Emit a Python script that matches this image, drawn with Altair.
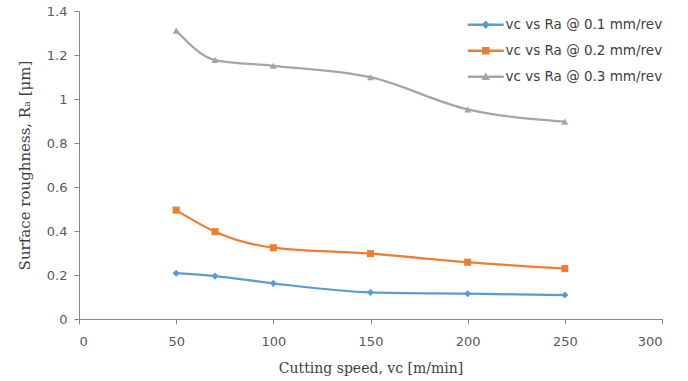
import altair as alt
import pandas as pd

speeds = [50, 70, 100, 150, 200, 250]
ra_01 = [0.208, 0.195, 0.162, 0.121, 0.115, 0.109]
ra_02 = [0.495, 0.397, 0.324, 0.297, 0.258, 0.229]
ra_03 = [1.311, 1.177, 1.151, 1.099, 0.953, 0.897]
series_names = ["vc vs Ra @ 0.1 mm/rev", "vc vs Ra @ 0.2 mm/rev", "vc vs Ra @ 0.3 mm/rev"]
colors = ["#5B9BD5", "#ED7D31", "#A5A5A5"]
marker_shapes = ["diamond", "square", "triangle-up"]

# legend symbols: a short line segment with the series marker on it
seg = "M-3.6,-0.23H3.6V0.23H-3.6Z"
legend_paths = [
    seg + "M0,-0.85L0.85,0L0,0.85L-0.85,0Z",
    seg + "M-0.75,-0.75H0.75V0.75H-0.75Z",
    seg + "M0,-0.85L0.85,0.65H-0.85Z",
]

rows = []
for name, vals in zip(series_names, [ra_01, ra_02, ra_03]):
    for s, v in zip(speeds, vals):
        rows.append({"speed": s, "ra": v, "series": name})
df = pd.DataFrame(rows)

x_enc = alt.X("speed:Q", scale=alt.Scale(domain=[0, 300], nice=False),
              axis=alt.Axis(values=[0, 50, 100, 150, 200, 250, 300], grid=False,
                            title="Cutting speed, vᴄ [m/min]", titleFont="DejaVu Serif",
                            titleFontSize=14, titleFontWeight="normal", titleColor="#404040",
                            titlePadding=13, labelPadding=11))
y_enc = alt.Y("ra:Q", scale=alt.Scale(domain=[0, 1.4], nice=False),
              axis=alt.Axis(values=[0, 0.2, 0.4, 0.6, 0.8, 1, 1.2, 1.4], grid=False,
                            title="Surface roughness, Rₐ [μm]", titleFont="DejaVu Serif",
                            titleFontSize=15, titleFontWeight="normal", titleColor="#404040",
                            titlePadding=14, labelPadding=7,
                            labelExpr="format(datum.value, '')"))

base = alt.Chart(df)

layers = []
for name, col, shp in zip(series_names, colors, marker_shapes):
    sub = base.transform_filter(alt.datum.series == name)
    layers.append(
        sub.mark_line(interpolate="monotone", strokeWidth=2.25, color=col)
        .encode(x=x_enc, y=y_enc)
    )
for name, col, shp in zip(series_names, colors, marker_shapes):
    sub = base.transform_filter(alt.datum.series == name)
    layers.append(
        sub.mark_point(filled=True, size=50, opacity=1, shape=shp, color=col)
        .encode(x="speed:Q", y="ra:Q")
    )

leg = alt.Legend(title=None, orient="none", legendX=400, legendY=7,
                 symbolSize=100, labelOffset=13, rowPadding=11, padding=0,
                 labelFont="DejaVu Sans", labelFontSize=13.5,
                 labelColor="#404040")

# marks of this layer are parked off-canvas; it only supplies the legend
legend_layer = base.mark_point(filled=True, opacity=1).encode(
    x=alt.value(-500), y=alt.value(-500),
    color=alt.Color("series:N", scale=alt.Scale(domain=series_names, range=colors), legend=leg),
    shape=alt.Shape("series:N", scale=alt.Scale(domain=series_names, range=legend_paths), legend=leg),
)
layers.append(legend_layer)

chart = alt.layer(*layers).properties(
    width=583, height=308,
    autosize=alt.AutoSizeParams(type="none"),
    padding={"left": 79, "top": 11, "right": 26, "bottom": 62},
    background="white",
).configure_view(stroke=None).configure_axis(
    grid=False, domainColor="#868686", tickColor="#868686", tickSize=5,
    labelFont="DejaVu Sans", labelFontSize=13, labelColor="#595959",
)

chart.save("out.html", embed_options={"renderer": "svg", "actions": False})
